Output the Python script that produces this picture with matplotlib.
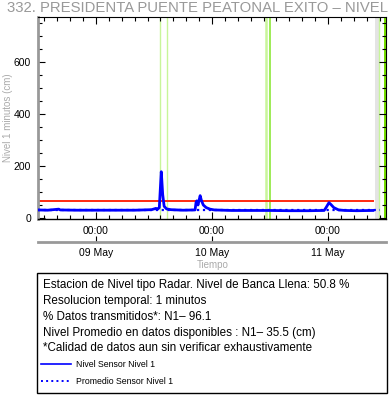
import matplotlib
matplotlib.use('Agg')
import matplotlib.pyplot as plt
import matplotlib.dates as mdates
import matplotlib.ticker as mticker
import numpy as np
import pandas as pd
from matplotlib.lines import Line2D
from matplotlib.patches import Rectangle

plt.rcParams['font.family'] = ['Liberation Sans', 'DejaVu Sans']

# datos (nivel en cm)
tiempos = ['2023-05-08 12:00', '2023-05-08 14:00', '2023-05-08 16:18', '2023-05-08 16:36',
           '2023-05-08 20:00', '2023-05-09 00:00', '2023-05-09 04:00', '2023-05-09 08:00',
           '2023-05-09 11:30', '2023-05-09 12:24', '2023-05-09 12:42', '2023-05-09 13:06',
           '2023-05-09 13:30', '2023-05-09 13:36', '2023-05-09 13:48', '2023-05-09 14:06',
           '2023-05-09 14:36', '2023-05-09 15:30', '2023-05-09 18:00', '2023-05-09 20:30',
           '2023-05-09 20:42', '2023-05-09 20:51', '2023-05-09 21:06', '2023-05-09 21:33',
           '2023-05-09 21:48', '2023-05-09 22:12', '2023-05-09 22:48', '2023-05-09 23:36',
           '2023-05-10 00:30', '2023-05-10 04:00', '2023-05-10 08:00', '2023-05-10 12:00',
           '2023-05-10 16:00', '2023-05-10 20:00', '2023-05-10 23:12', '2023-05-10 23:36',
           '2023-05-11 00:12', '2023-05-11 00:36', '2023-05-11 01:12', '2023-05-11 02:12',
           '2023-05-11 03:30', '2023-05-11 06:00', '2023-05-11 09:18']
nivel = [31, 30, 34, 31,
         30, 30, 30, 30,
         32, 37, 33, 40,
         178, 150, 90, 45,
         35, 32, 30, 31,
         60, 66, 50, 86,
         68, 50, 40, 34,
         31, 29, 29, 29,
         28, 28, 29, 40,
         59, 52, 40, 31,
         29, 28, 29]

banca_llena = 66      # linea roja (cm)
promedio = 31         # linea punteada (cm)
fin_promedio = '2023-05-11 10:50'

# marcas verticales (sin datos / eventos)
lineas_claras = ['2023-05-09 13:18', '2023-05-09 14:45', '2023-05-11 10:33']
linea_clara_ancha = '2023-05-10 11:16'
linea_verde = '2023-05-10 12:04'
franja_gris = ('2023-05-11 09:43', '2023-05-11 10:27')
franja_verde = ('2023-05-11 11:35', '2023-05-11 12:00')

x_ini = pd.Timestamp('2023-05-08 12:00')
x_fin = pd.Timestamp('2023-05-11 12:00')

titulo = '332. PRESIDENTA PUENTE PEATONAL EXITO \u2013 NIVEL'
textos = ['Estacion de Nivel tipo Radar. Nivel de Banca Llena: 50.8 %',
          'Resolucion temporal: 1 minutos',
          '% Datos transmitidos*: N1\u2013 96.1',
          'Nivel Promedio en datos disponibles : N1\u2013 35.5 (cm)',
          '*Calidad de datos aun sin verificar exhaustivamente']
leyenda = ['Nivel Sensor Nivel 1', 'Promedio Sensor Nivel 1']

t = pd.to_datetime(tiempos)

W, H = 390, 404
fig = plt.figure(figsize=(W / 100, H / 100), dpi=100)
ax = fig.add_axes([38 / W, 1 - 219 / H, 348 / W, 202 / H])

# franjas y lineas verticales
ax.axvspan(pd.Timestamp(franja_gris[0]), pd.Timestamp(franja_gris[1]), color='#e4e4e4', lw=0, zorder=1)
ax.axvspan(pd.Timestamp(franja_verde[0]), pd.Timestamp(franja_verde[1]), color='#77e000', lw=0, zorder=1)
for tl in lineas_claras:
    ax.axvline(pd.Timestamp(tl), color='#c8f59a', lw=1.0, zorder=1)
ax.axvline(pd.Timestamp(linea_clara_ancha), color='#c8f59a', lw=1.8, zorder=1)
ax.axvline(pd.Timestamp(linea_verde), color='#8ee83a', lw=1.2, zorder=1)

# series
ax.plot([x_ini, t[-1]], [banca_llena, banca_llena], color='#ff2a10', lw=1.4, zorder=2)
ax.plot([x_ini, pd.Timestamp(fin_promedio)], [promedio, promedio], color='#0000ff', ls=':', lw=1.6, zorder=3)
ax.plot(t, nivel, color='#0000ff', lw=2.0, zorder=4)

ax.set_xlim(x_ini, x_fin)
ax.set_ylim(-3.85, 773)

ax.xaxis.set_major_locator(mdates.DayLocator())
ax.xaxis.set_major_formatter(mdates.DateFormatter('%H:%M'))
d0 = mdates.date2num(pd.Timestamp('2023-05-08 00:00'))
ax.xaxis.set_minor_locator(mticker.FixedLocator(d0 + np.arange(0, 5, 1 / 9)))
ax.yaxis.set_major_locator(mticker.MultipleLocator(200))
ax.yaxis.set_minor_locator(mticker.MultipleLocator(50))

ax.tick_params(which='both', direction='in', top=True, right=True, labelsize=7.5, pad=5)
ax.tick_params(which='major', length=5, width=0.8)
ax.tick_params(which='minor', length=3, width=0.8)

ax.spines['left'].set_color('#999999')
ax.spines['left'].set_linewidth(2)
ax.spines['top'].set_linewidth(0.8)
ax.spines['bottom'].set_linewidth(1.0)
ax.spines['right'].set_linewidth(0.8)

ax.set_ylabel('Nivel 1 minutos (cm)', color='#aaaaaa', fontsize=7)
ax.yaxis.set_label_coords(-25 / 348, 0.5)

# eje secundario con los dias
ax2 = fig.add_axes([38 / W, 1 - 242 / H, 348 / W, 0.0001])
ax2.set_facecolor('none')
for s in ['top', 'left', 'right']:
    ax2.spines[s].set_visible(False)
ax2.spines['bottom'].set_color('#999999')
ax2.spines['bottom'].set_linewidth(2)
ax2.set_yticks([])
ax2.set_xlim(x_ini, x_fin)
ax2.xaxis.set_major_locator(mdates.DayLocator())
ax2.xaxis.set_major_formatter(mdates.DateFormatter('%d %b'))
ax2.xaxis.set_minor_locator(mticker.NullLocator())
ax2.tick_params(axis='x', direction='in', length=4, width=0.8, labelsize=7.5, pad=4)

fig.text(213 / W, 1 - 265 / H, 'Tiempo', ha='center', va='center', color='#aaaaaa', fontsize=7)
fig.text(7 / W, 1 - 11.5 / H, titulo, ha='left', va='baseline', color='#999999', fontsize=10.7)

# cuadro de informacion
fig.add_artist(Rectangle((37 / W, 1 - 393 / H), 349.5 / W, 120 / H, fill=False,
                         ec='black', lw=1, transform=fig.transFigure))
for yy, s in zip([285, 301, 316.7, 332.7, 348], textos):
    fig.text(43 / W, 1 - yy / H, s, ha='left', va='center', fontsize=8.4)

h1 = Line2D([], [], color='#0000ff', lw=1.2)
h2 = Line2D([], [], color='#0000ff', ls=':', lw=1.4)
fig.legend([h1, h2], leyenda, loc='upper left', bbox_to_anchor=(41 / W, 1 - 360 / H),
           bbox_transform=fig.transFigure, frameon=False, fontsize=6.3,
           handlelength=3.4, handletextpad=0.6, borderpad=0, borderaxespad=0,
           labelspacing=0.95)

fig.savefig('out.png', dpi=100)
